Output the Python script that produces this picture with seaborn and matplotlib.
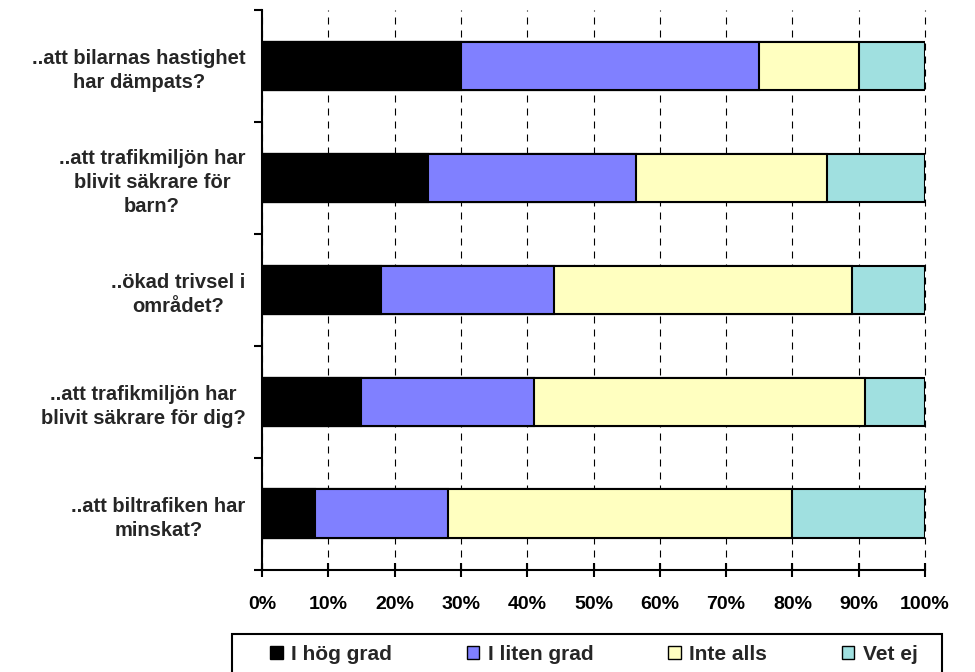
import numpy as np
import pandas as pd
import matplotlib
matplotlib.use("Agg")
import matplotlib.pyplot as plt
import seaborn as sns
from matplotlib.patches import Patch, Rectangle

# Survey questions (top to bottom) and answer categories
questions = [
    "..att bilarnas hastighet\nhar dämpats?",
    "..att trafikmiljön har\nblivit säkrare för\nbarn?",
    "..ökad trivsel i\nområdet?",
    "..att trafikmiljön har\nblivit säkrare för dig?",
    "..att biltrafiken har\nminskat?",
]
answers = ["I hög grad", "I liten grad", "Inte alls", "Vet ej"]

# Share of answers per question (%)
hog_grad = [30, 25, 18, 15, 8]
liten_grad = [45, 31.4, 26, 26, 20]
inte_alls = [15, 28.8, 45, 50, 52]
vet_ej = [10, 14.8, 11, 9, 20]

x_ticks = [0, 10, 20, 30, 40, 50, 60, 70, 80, 90, 100]
x_tick_labels = [f"{v}%" for v in x_ticks]

colors = ["#000000", "#8080FF", "#FFFFC0", "#A0E0E0"]

sns.set_style("ticks")
plt.rcParams["font.family"] = ["Liberation Sans", "DejaVu Sans"]
plt.rcParams["font.weight"] = "bold"

df = pd.DataFrame({
    "fraga": questions,
    answers[0]: hog_grad,
    answers[1]: liten_grad,
    answers[2]: inte_alls,
    answers[3]: vet_ej,
})
cum = df[answers].cumsum(axis=1)
cum["fraga"] = df["fraga"]

W, H = 975, 672
fig = plt.figure(figsize=(W / 100, H / 100), dpi=100)
ax = fig.add_axes([262 / W, 1 - 569.5 / H, (925 - 262) / W, (569.5 - 10) / H])

# Stacked bars: draw cumulative totals from the outermost layer inwards
for name, col in reversed(list(zip(answers, colors))):
    sns.barplot(
        data=cum, x=name, y="fraga", orient="h",
        color=col, saturation=1, width=0.43, edgecolor="black",
        linewidth=1.5, errorbar=None, ax=ax, zorder=3,
    )

ax.set_xlim(0, 100)
ax.set_ylim(len(questions) - 0.5, -0.5)
ax.set_xlabel("")
ax.set_ylabel("")

ax.set_xticks(x_ticks, x_tick_labels)
ax.tick_params(axis="x", which="major", length=9.5, width=1.5, direction="inout",
               pad=14, labelsize=14, colors="black")

# Category boundaries get tick marks, labels sit between them
ax.set_yticks(np.arange(-0.5, len(questions), 1.0))
ax.set_yticks(np.arange(len(questions)), questions, minor=True)
ax.tick_params(axis="y", which="major", length=6, width=1.5, direction="out",
               labelleft=False, colors="black")
ax.tick_params(axis="y", which="minor", length=0, pad=12, labelsize=14.5)
for lbl in ax.get_yticklabels(minor=True):
    lbl.set_multialignment("center")
    lbl.set_linespacing(1.35)
    lbl.set_fontweight("bold")
for lbl in ax.get_xticklabels():
    lbl.set_fontweight("bold")

ax.xaxis.grid(True, linestyle=(0, (6.3, 5.4)), color="black", linewidth=0.8, zorder=0)
ax.yaxis.grid(False)
ax.set_axisbelow(True)
for gl in ax.get_xgridlines():
    gl.set_clip_on(False)

for side in ["top", "right"]:
    ax.spines[side].set_visible(False)
for side in ["left", "bottom"]:
    ax.spines[side].set_linewidth(1.5)
    ax.spines[side].set_color("black")
    ax.spines[side].set_zorder(4)

# Legend box along the bottom edge
fig.patches.append(Rectangle((232 / W, 1 - 690 / H), (942 - 232) / W, (690 - 634) / H,
                             transform=fig.transFigure, facecolor="white",
                             edgecolor="black", linewidth=1.5))
handles = [Patch(facecolor=c, edgecolor="black", linewidth=1) for c in colors]
fig.legend(handles, answers, loc="center left", bbox_to_anchor=(270 / W, 1 - 654 / H),
           ncol=4, frameon=False, borderpad=0, borderaxespad=0,
           handlelength=0.6, handleheight=0.6, handletextpad=0.4,
           columnspacing=3.6, prop={"size": 15, "weight": "bold"})

fig.savefig("out.png", dpi=100)
